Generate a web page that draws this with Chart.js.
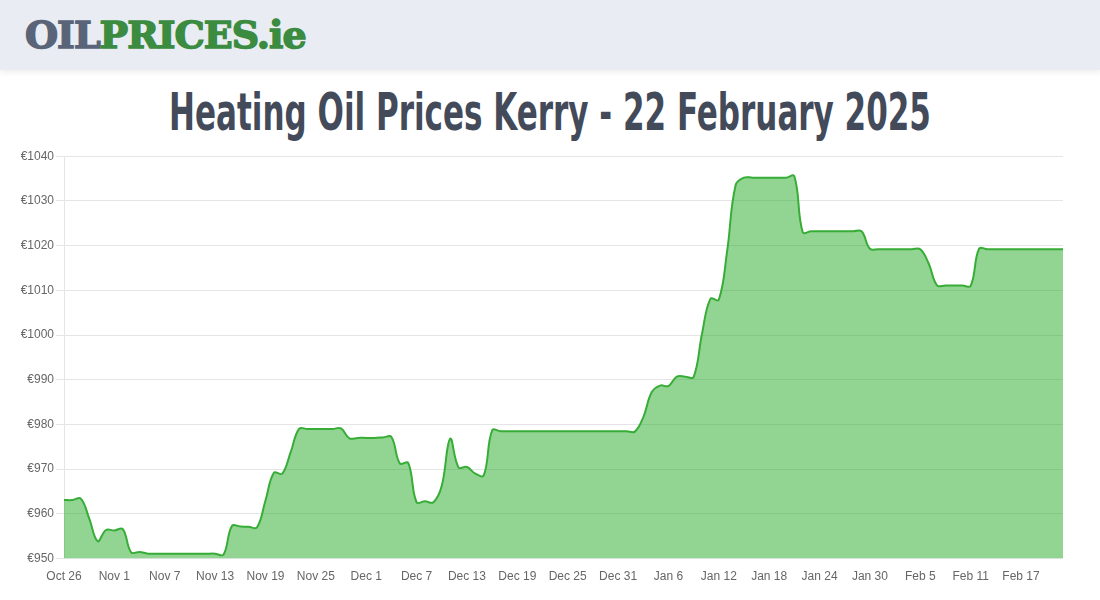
<!DOCTYPE html>
<html>
<head>
<meta charset="utf-8">
<script src="https://cdn.jsdelivr.net/npm/chart.js@4/dist/chart.umd.min.js"></script>
<style>
    body { margin: 0; width: 1100px; height: 600px; background: #fff; overflow: hidden; font-family: Arial, "Liberation Sans", sans-serif; }
    #header { position: absolute; left: 0; top: 0; width: 1100px; height: 70px; background: #e9ecf3; box-shadow: 0 2px 6px rgba(0,0,0,0.08); }
    #logo { position: absolute; left: 25px; top: 12px; font-family: "DejaVu Serif", serif; font-weight: bold; font-size: 38px; letter-spacing: -1px; white-space: nowrap; transform-origin: left center; transform: scaleX(1.0); }
    #logo .oil { color: #5a6478; -webkit-text-stroke: 1.5px #5a6478; }
    #logo .prices { color: #3b8c40; -webkit-text-stroke: 1.5px #3b8c40; }
    #title { position: absolute; left: -200px; top: 82px; width: 1500px; text-align: center; font-family: "DejaVu Sans Condensed", "DejaVu Sans", sans-serif; font-weight: bold; font-size: 52px; color: #434a5a; margin: 0; transform: scaleX(0.663); white-space: nowrap; }
    #wrap { position: absolute; left: 0; top: 147px; width: 1100px; height: 440px; }
</style>
</head>
<body>
<div id="header"><div id="logo"><span class="oil">OIL</span><span class="prices">PRICES.ie</span></div></div>
<h1 id="title">Heating Oil Prices Kerry - 22 February 2025</h1>
<div id="wrap"><canvas id="priceGraph"></canvas></div>
<script>
// one label per day, Oct 26 2024 -> Feb 22 2025
const months = ['Oct', 'Nov', 'Dec', 'Jan', 'Feb'];
const firstDay = [26, 1, 1, 1, 1];
const lastDay = [31, 30, 31, 31, 22];

let dayLabels = [];
for (let m = 0; m < months.length; m++) {
    for (let d = firstDay[m]; d <= lastDay[m]; d++) {
        dayLabels.push(months[m] + ' ' + d);
    }
}

// price in euro per day
const octPrices = [963.1, 963.1, 963.4, 959.0, 953.9, 956.4];
const novPrices = [956.3, 956.6, 951.4, 951.5, 951.1, 951.1, 951.1, 951.1, 951.1, 951.1,
    951.1, 951.1, 951.1, 950.9, 957.3, 957.2, 957.1, 957.0, 963.0, 969.2,
    969.0, 973.8, 979.0, 979.0, 979.0, 979.0, 979.0, 979.1, 976.9, 977.0];
const decPrices = [977.0, 977.0, 977.1, 977.2, 971.3, 971.4, 962.6, 962.8, 962.6, 966.3,
    976.8, 970.4, 970.5, 969.0, 968.6, 978.7, 978.5, 978.5, 978.5, 978.5,
    978.5, 978.5, 978.5, 978.5, 978.5, 978.5, 978.5, 978.5, 978.5, 978.5,
    978.5];
const janPrices = [978.5, 978.4, 981.6, 987.2, 988.7, 988.6, 990.7, 990.7, 990.6, 1000.3,
    1008.1, 1007.9, 1018.9, 1033.5, 1035.2, 1035.2, 1035.2, 1035.2, 1035.2, 1035.2,
    1035.5, 1023.0, 1023.2, 1023.2, 1023.2, 1023.2, 1023.2, 1023.2, 1023.2, 1019.3,
    1019.2];
const febPrices = [1019.2, 1019.2, 1019.2, 1019.2, 1019.2, 1016.0, 1011.1, 1011.1, 1011.1, 1011.1,
    1011.0, 1019.3, 1019.2, 1019.2, 1019.2, 1019.2, 1019.2, 1019.2, 1019.2, 1019.2,
    1019.2, 1019.2];

const prices = [].concat(octPrices, novPrices, decPrices, janPrices, febPrices);
const yTicks = { min: 950, max: 1040, step: 10 };

new Chart(document.getElementById('priceGraph'), {
    type: 'line',
    data: {
        labels: dayLabels,
        datasets: [{
            data: prices,
            borderColor: '#37ad37',
            backgroundColor: 'rgba(37, 171, 37, 0.5)',
            borderWidth: 2,
            fill: 'start',
            pointRadius: 0,
            pointHoverRadius: 0,
            tension: 0.4
        }]
    },
    options: {
        responsive: true,
        maintainAspectRatio: false,
        animation: false,
        layout: {
            padding: { top: 6, right: 37, bottom: 0, left: 0 }
        },
        scales: {
            x: {
                grid: {
                    display: false
                },
                border: {
                    display: false
                },
                ticks: {
                    autoSkip: false,
                    maxRotation: 0,
                    color: '#666',
                    font: { family: 'Arial, "Liberation Sans", sans-serif', size: 12 },
                    callback: function(value, index) {
                        return index % 6 == 0 ? this.getLabelForValue(value) : '';
                    }
                }
            },
            y: {
                min: yTicks.min,
                max: yTicks.max,
                afterFit: function(scale) { scale.width = 64; },
                grid: {
                    color: 'rgba(0, 0, 0, 0.1)',
                    tickLength: 8
                },
                border: {
                    color: 'rgba(0, 0, 0, 0.1)'
                },
                ticks: {
                    stepSize: yTicks.step,
                    padding: 2,
                    color: '#666',
                    font: { family: 'Arial, "Liberation Sans", sans-serif', size: 12 },
                    callback: function(value) {
                        return '€' + value;
                    }
                }
            }
        },
        plugins: {
            legend: { display: false },
            tooltip: { enabled: false }
        }
    }
});
</script>
</body>
</html>
